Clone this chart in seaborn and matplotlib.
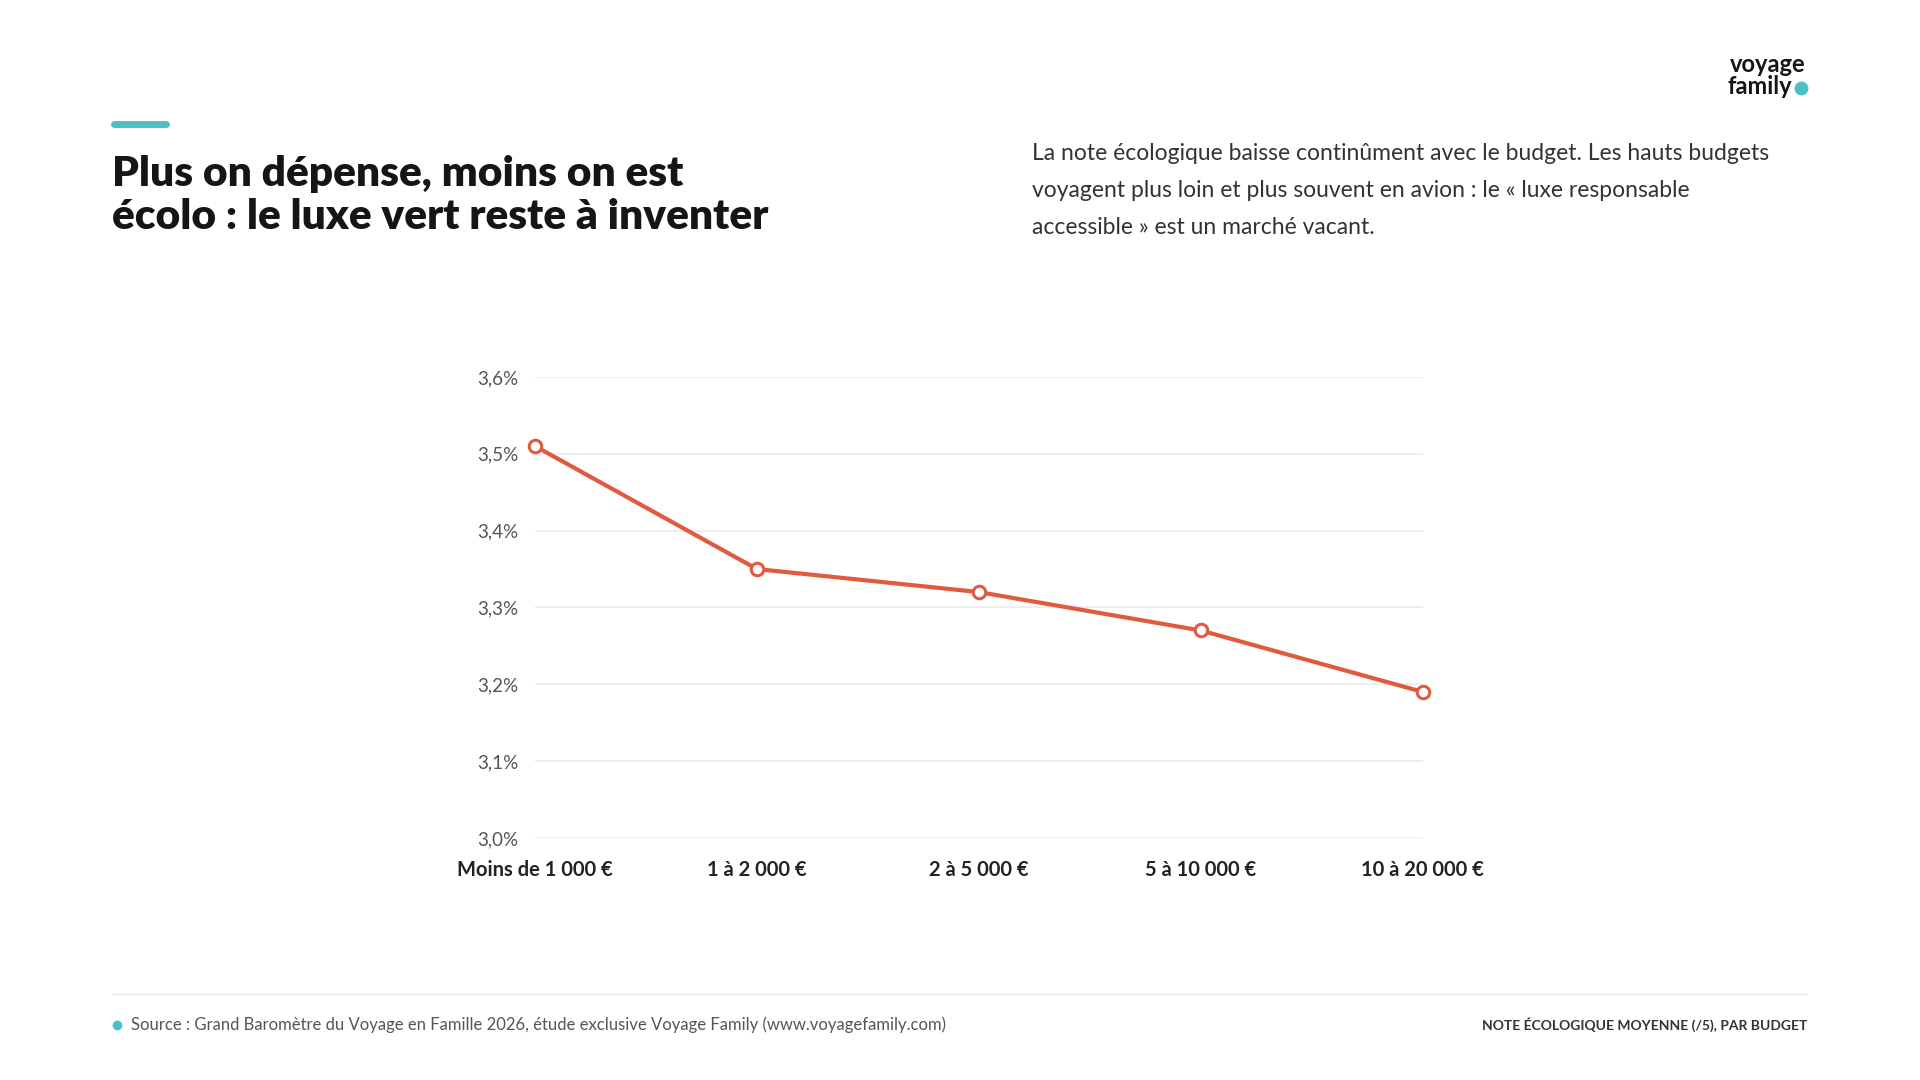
import pandas as pd
import seaborn as sns
import matplotlib.pyplot as plt
from matplotlib.ticker import FuncFormatter, MultipleLocator

budgets = ['Moins de 1 000 €', '1 à 2 000 €', '2 à 5 000 €', '5 à 10 000 €', '10 à 20 000 €']
note_eco = [3.51, 3.35, 3.32, 3.27, 3.19]

title = 'Plus on dépense, moins on est\nécolo : le luxe vert reste à inventer'
subtitle = ('La note écologique baisse continûment avec le budget. Les hauts budgets\n'
            'voyagent plus loin et plus souvent en avion : le « luxe responsable\n'
            'accessible » est un marché vacant.')
source = 'Source : Grand Baromètre du Voyage en Famille 2026, étude exclusive Voyage Family (www.voyagefamily.com)'
chart_label = 'NOTE ÉCOLOGIQUE MOYENNE (/5), PAR BUDGET'

RED = '#E05A3F'
TEAL = '#4FBFC6'
DARK = '#151515'


def main():
    sns.set_style('white')
    plt.rcParams['font.family'] = ['Lato', 'DejaVu Sans']

    df = pd.DataFrame({'budget': budgets, 'note': note_eco})

    fig = plt.figure(figsize=(19.2, 10.8), dpi=100)
    ax = fig.add_axes([0.2786, 0.2241, 0.4625, 0.4269])

    sns.lineplot(data=df, x='budget', y='note', sort=False, color=RED, linewidth=3,
                 marker='o', markersize=9, markerfacecolor='white',
                 markeredgecolor=RED, markeredgewidth=2.2, ax=ax, clip_on=False, zorder=3)

    ax.set_xlim(0, len(budgets) - 1)
    ax.set_ylim(3.0, 3.6)
    ax.yaxis.set_major_locator(MultipleLocator(0.1))
    ax.yaxis.set_major_formatter(FuncFormatter(lambda v, _: f'{v:.1f}%'.replace('.', ',')))
    ax.grid(axis='y', color='#ebebeb', linewidth=1.2)
    ax.grid(axis='x', visible=False)
    for s in ax.spines.values():
        s.set_visible(False)
    ax.set_xlabel('')
    ax.set_ylabel('')
    ax.tick_params(axis='y', length=0, pad=12, labelsize=13.5, labelcolor='#555555')
    ax.tick_params(axis='x', length=0, pad=16, labelsize=14.5, labelcolor='#222222')
    for lbl in ax.get_xticklabels():
        lbl.set_fontweight('bold')

    # header
    fig.add_artist(plt.Line2D([114 / 1920, 166 / 1920], [1 - 124 / 1080] * 2,
                              color=TEAL, linewidth=5, solid_capstyle='round'))
    fig.text(112 / 1920, 1 - 155 / 1080, title, fontsize=30.5, fontweight='heavy',
             color=DARK, va='top', ha='left', linespacing=1.15)
    fig.text(1032 / 1920, 1 - 143 / 1080, subtitle, fontsize=16.5, color='#333333',
             va='top', ha='left', linespacing=1.95)

    # logo
    fig.text(1806 / 1920, 1 - 64 / 1080, 'voyage', fontsize=17, fontweight='bold',
             color=DARK, ha='right', va='center')
    fig.text(1727 / 1920, 1 - 87 / 1080, 'family', fontsize=17, fontweight='bold',
             color=DARK, ha='left', va='center')
    fig.add_artist(plt.Line2D([1801 / 1920], [1 - 88 / 1080], marker='o', markersize=9,
                              color=TEAL, linestyle='none'))

    # footer
    fig.add_artist(plt.Line2D([112 / 1920, 1807 / 1920], [1 - 994 / 1080] * 2,
                              color='#e6e6e6', linewidth=1))
    fig.add_artist(plt.Line2D([117 / 1920], [1 - 1025 / 1080], marker='o', markersize=6,
                              color=TEAL, linestyle='none'))
    fig.text(131 / 1920, 1 - 1025 / 1080, source, fontsize=12, color='#555555',
             ha='left', va='center')
    fig.text(1807 / 1920, 1 - 1025 / 1080, chart_label, fontsize=10, fontweight='bold',
             color='#333333', ha='right', va='center')

    fig.savefig('out.png', dpi=100, facecolor='white')


if __name__ == '__main__':
    main()
